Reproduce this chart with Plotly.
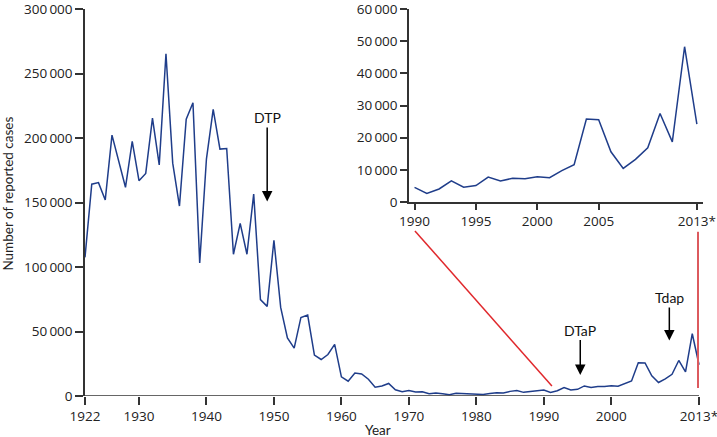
import plotly.graph_objects as go

# reported pertussis cases, USA
years = list(range(1922, 2014))
cases = [
    107473, 164191, 165418, 152003, 202210, 181411, 161799, 197371, 166914, 172559,
    215343, 179135, 265269, 180518, 147237, 214652, 227319, 103188, 183866, 222202,
    191383, 191890, 109873, 133792, 109860, 156517, 74715, 69479, 120718, 68687,
    45030, 37129, 60886, 62786, 31732, 28295, 32148, 40005, 14809, 11468,
    17749, 17135, 13005, 6799, 7717, 9718, 4810, 3285, 4249, 3036,
    3287, 1759, 2402, 1738, 1010, 2177, 2063, 1623, 1730, 1248,
    1895, 2463, 2276, 3589, 4195, 2823, 3450, 4157, 4570, 2719,
    4083, 6586, 4617, 5137, 7796, 6564, 7405, 7288, 7867, 7580,
    9771, 11647, 25827, 25616, 15632, 10454, 13278, 16858, 27550, 18719,
    48277, 24231,
]

main_xticks = [1922, 1930, 1940, 1950, 1960, 1970, 1980, 1990, 2000, 2013]
main_xlabels = ["1922", "1930", "1940", "1950", "1960", "1970", "1980", "1990", "2000", "2013*"]
main_yticks = [0, 50000, 100000, 150000, 200000, 250000, 300000]
inset_start = 1990
inset_xticks = [1990, 1995, 2000, 2005, 2013]
inset_xlabels = ["1990", "1995", "2000", "2005", "2013*"]
inset_yticks = [0, 10000, 20000, 30000, 40000, 50000, 60000]

# vaccine introductions: (label, year, arrow tip value, arrow length px)
vaccines = [("DTP", 1949, 150800, -84), ("DTaP", 1995.4, 16200, -45), ("Tdap", 2008.6, 43100, -43)]


def fmt(v):
    s = f"{v:,}"
    return s.replace(",", "\u2009")


FONT = "Lato"
TICKFONT = "Open Sans"
BLUE = "#1f3d8a"
AXIS = "#333333"

i0 = years.index(inset_start)

fig = go.Figure()
fig.add_trace(go.Scatter(x=years, y=cases, mode="lines",
                         line=dict(color=BLUE, width=1.5), xaxis="x", yaxis="y"))
fig.add_trace(go.Scatter(x=years[i0:], y=cases[i0:], mode="lines",
                         line=dict(color=BLUE, width=1.5), xaxis="x2", yaxis="y2"))

axis_common = dict(showgrid=False, zeroline=False, showline=True, linecolor=AXIS,
                   linewidth=1.5, ticks="outside", tickcolor=AXIS, tickwidth=1.5,
                   ticklabeloverflow="allow", automargin=False,
                   tickfont=dict(family=TICKFONT, size=13.5, color="#222"))

fig.update_layout(
    width=717, height=437,
    margin=dict(l=85, r=14, t=9, b=41),
    plot_bgcolor="white", paper_bgcolor="white",
    showlegend=False,
    xaxis=dict(axis_common, range=[1922, 2013.59], tickvals=main_xticks, ticktext=main_xlabels,
               ticklen=8, showline=False),
    yaxis=dict(axis_common, range=[0, 300000], tickvals=main_yticks,
               ticktext=[fmt(v) for v in main_yticks], ticklen=8),
    xaxis2=dict(axis_common, domain=[0.5243, 1.0], anchor="y2", range=[1989.55, 2013.5],
                tickvals=inset_xticks, ticktext=inset_xlabels, ticklen=6),
    yaxis2=dict(axis_common, domain=[0.501, 1.0], anchor="x2", range=[0, 60000],
                tickvals=inset_yticks, ticktext=[fmt(v) for v in inset_yticks], ticklen=7),
)

# main x axis line stops at 2013
fig.add_shape(type="line", xref="x", yref="y", x0=1922, x1=2013, y0=0, y1=0,
              line=dict(color=AXIS, width=1.5))

# red connector lines between inset and main chart
fig.add_shape(type="line", xref="x", yref="y", x0=1970.9, y0=128000, x1=1991.2, y1=7700,
              line=dict(color="#e0282c", width=1.5))
fig.add_shape(type="line", xref="x", yref="y", x0=2012.85, y0=127300, x1=2012.85, y1=6200,
              line=dict(color="#dc5a5e", width=2))

for label, yr, tip, ay in vaccines:
    fig.add_annotation(x=yr, y=tip, xref="x", yref="y", text=label, showarrow=True,
                       ax=0, ay=ay, arrowhead=2, arrowsize=1.4, arrowwidth=1.5,
                       arrowcolor="black", font=dict(family=FONT, size=14, color="#111"))

fig.add_annotation(x=-0.1246, y=0.523, xref="paper", yref="paper", text="Number of reported cases",
                   textangle=-90, showarrow=False, xanchor="center", yanchor="middle",
                   font=dict(family=FONT, size=13.5, color="#222"))
fig.add_annotation(x=0.474, y=-0.087, xref="paper", yref="paper", text="Year",
                   showarrow=False, xanchor="center", yanchor="middle",
                   font=dict(family=FONT, size=13.5, color="#222"))

fig.write_html("out.html", config={"displayModeBar": False},
               post_script="document.body.style.margin='0';")
